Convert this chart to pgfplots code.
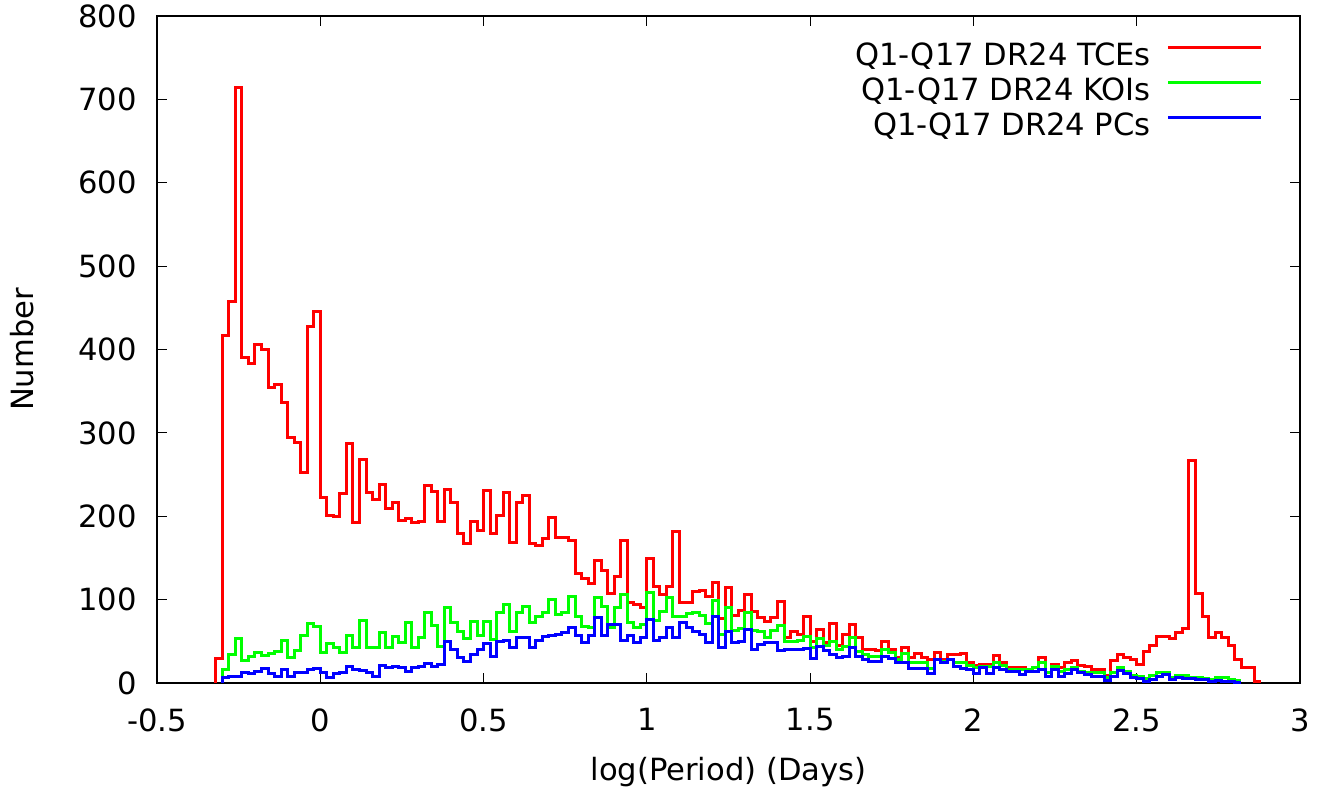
\documentclass[border=0pt]{standalone}
\usepackage{fontspec}
\setmainfont{DejaVu Sans}
\usepackage{pgfplots}
\usepackage{pgfplotstable}
\pgfplotsset{compat=1.18}

\pgfplotstableread{
x y
-0.32 0
-0.32 29
-0.30 417
-0.28 457
-0.26 714
-0.24 390
-0.22 383
-0.20 406
-0.18 400
-0.16 355
-0.14 358
-0.12 336
-0.10 294
-0.08 288
-0.06 252
-0.04 427
-0.02 445
0.00 223
0.02 201
0.04 200
0.06 227
0.08 287
0.10 193
0.12 268
0.14 228
0.16 220
0.18 238
0.20 209
0.22 217
0.24 195
0.26 197
0.28 192
0.30 194
0.32 237
0.34 230
0.36 194
0.38 232
0.40 217
0.42 179
0.44 167
0.46 194
0.48 183
0.50 231
0.52 179
0.54 201
0.56 229
0.58 169
0.60 216
0.62 225
0.64 167
0.66 165
0.68 173
0.70 199
0.72 174
0.74 174
0.76 171
0.78 131
0.80 125
0.82 119
0.84 147
0.86 135
0.88 107
0.90 128
0.92 171
0.94 96
0.96 94
0.98 91
1.00 149
1.02 116
1.04 106
1.06 116
1.08 182
1.10 97
1.12 97
1.14 110
1.16 111
1.18 104
1.20 121
1.22 77
1.24 114
1.26 81
1.28 87
1.30 106
1.32 86
1.34 78
1.36 74
1.38 78
1.40 98
1.42 55
1.44 62
1.46 58
1.48 80
1.50 50
1.52 64
1.54 48
1.56 71
1.58 45
1.60 58
1.62 70
1.64 55
1.66 40
1.68 40
1.70 39
1.72 50
1.74 40
1.76 30
1.78 43
1.80 31
1.82 35
1.84 31
1.86 28
1.88 36
1.90 28
1.92 34
1.94 34
1.96 35
1.98 24
2.00 21
2.02 22
2.04 22
2.06 33
2.08 24
2.10 18
2.12 18
2.14 18
2.16 16
2.18 18
2.20 30
2.22 12
2.24 22
2.26 18
2.28 24
2.30 27
2.32 21
2.34 20
2.36 16
2.38 16
2.40 9
2.42 27
2.44 34
2.46 30
2.48 28
2.50 22
2.52 38
2.54 45
2.56 56
2.58 56
2.60 53
2.62 61
2.64 65
2.66 267
2.68 107
2.70 80
2.72 55
2.74 61
2.76 55
2.78 45
2.80 28
2.82 19
2.84 19
2.86 2
2.88 2
}\tce

\pgfplotstableread{
x y
-0.30 0
-0.30 16
-0.28 34
-0.26 53
-0.24 27
-0.22 32
-0.20 36
-0.18 33
-0.16 35
-0.14 38
-0.12 51
-0.10 30
-0.08 39
-0.06 57
-0.04 71
-0.02 68
0.00 36
0.02 47
0.04 43
0.06 36
0.08 57
0.10 42
0.12 75
0.14 43
0.16 43
0.18 60
0.20 42
0.22 56
0.24 49
0.26 72
0.28 42
0.30 55
0.32 84
0.34 69
0.36 44
0.38 90
0.40 73
0.42 62
0.44 53
0.46 74
0.48 57
0.50 74
0.52 52
0.54 84
0.56 94
0.58 62
0.60 84
0.62 92
0.64 72
0.66 80
0.68 85
0.70 100
0.72 82
0.74 85
0.76 104
0.78 80
0.80 68
0.82 67
0.84 103
0.86 92
0.88 67
0.90 90
0.92 106
0.94 72
0.96 67
0.98 70
1.00 108
1.02 75
1.04 86
1.06 102
1.08 80
1.10 80
1.12 83
1.14 85
1.16 81
1.18 71
1.20 99
1.22 58
1.24 90
1.26 63
1.28 65
1.30 84
1.32 63
1.34 62
1.36 55
1.38 63
1.40 69
1.42 50
1.44 50
1.46 51
1.48 56
1.50 42
1.52 53
1.54 45
1.56 50
1.58 40
1.60 44
1.62 55
1.64 38
1.66 34
1.68 32
1.70 32
1.72 40
1.74 36
1.76 28
1.78 35
1.80 24
1.82 24
1.84 24
1.86 17
1.88 28
1.90 26
1.92 28
1.94 24
1.96 25
1.98 21
2.00 18
2.02 20
2.04 20
2.06 25
2.08 21
2.10 16
2.12 16
2.14 16
2.16 16
2.18 18
2.20 24
2.22 12
2.24 20
2.26 14
2.28 16
2.30 19
2.32 14
2.34 12
2.36 12
2.38 12
2.40 6
2.42 12
2.44 18
2.46 14
2.48 9
2.50 8
2.52 5
2.54 9
2.56 12
2.58 13
2.60 7
2.62 9
2.64 9
2.66 7
2.68 6
2.70 5
2.72 4
2.74 6
2.76 6
2.78 4
2.80 3
2.82 3
}\koi

\pgfplotstableread{
x y
-0.30 0
-0.30 6
-0.28 8
-0.26 8
-0.24 12
-0.22 11
-0.20 14
-0.18 17
-0.16 11
-0.14 8
-0.12 16
-0.10 8
-0.08 12
-0.06 13
-0.04 16
-0.02 17
0.00 12
0.02 7
0.04 11
0.06 13
0.08 20
0.10 16
0.12 15
0.14 13
0.16 8
0.18 21
0.20 19
0.22 20
0.24 18
0.26 14
0.28 19
0.30 20
0.32 23
0.34 20
0.36 22
0.38 50
0.40 40
0.42 31
0.44 26
0.46 34
0.48 40
0.50 47
0.52 32
0.54 50
0.56 51
0.58 42
0.60 54
0.62 55
0.64 42
0.66 51
0.68 56
0.70 57
0.72 58
0.74 61
0.76 66
0.78 57
0.80 49
0.82 57
0.84 79
0.86 57
0.88 70
0.90 70
0.92 51
0.94 57
0.96 48
0.98 55
1.00 76
1.02 51
1.04 55
1.06 67
1.08 54
1.10 72
1.12 66
1.14 62
1.16 58
1.18 48
1.20 80
1.22 43
1.24 62
1.26 48
1.28 50
1.30 64
1.32 40
1.34 46
1.36 48
1.38 48
1.40 39
1.42 40
1.44 40
1.46 40
1.48 41
1.50 29
1.52 44
1.54 39
1.56 34
1.58 31
1.60 32
1.62 43
1.64 32
1.66 28
1.68 26
1.70 26
1.72 32
1.74 29
1.76 24
1.78 25
1.80 17
1.82 17
1.84 17
1.86 11
1.88 28
1.90 24
1.92 28
1.94 20
1.96 17
1.98 16
2.00 11
2.02 18
2.04 11
2.06 18
2.08 16
2.10 14
2.12 14
2.14 10
2.16 14
2.18 14
2.20 16
2.22 8
2.24 16
2.26 8
2.28 11
2.30 16
2.32 13
2.34 10
2.36 8
2.38 8
2.40 3
2.42 8
2.44 15
2.46 11
2.48 6
2.50 5
2.52 2
2.54 4
2.56 8
2.58 10
2.60 4
2.62 6
2.64 5
2.66 5
2.68 4
2.70 4
2.72 2
2.74 3
2.76 2
2.78 2
2.80 1
2.82 1
}\pcs

\begin{document}
\fontsize{15.3pt}{18pt}\selectfont
\begin{tikzpicture}
\begin{axis}[
  scale only axis,
  width=571.5pt, height=333.5pt,
  xmin=-0.5, xmax=3, ymin=0, ymax=800,
  xtick={-0.5,0,0.5,1,1.5,2,2.5,3},
  xticklabels={-0.5,0,0.5,1,1.5,2,2.5,3},
  ytick={0,100,200,300,400,500,600,700,800},
  yticklabels={0,100,200,300,400,500,600,700,800},
  tick align=inside,
  major tick length=5pt,
  minor tick num=0,
  axis line style={line width=0.8pt},
  every tick/.style={line width=0.6pt, black},
  xticklabel style={anchor=north, inner sep=0pt, yshift=-12.5pt},
  yticklabel style={anchor=east, inner sep=0pt, xshift=-10pt},
  xlabel={log(Period) (Days)},
  ylabel={Number},
  every axis x label/.style={at={(axis description cs:0.5,-0.134)}, anchor=center},
  every axis y label/.style={at={(axis description cs:-0.118,0.5)}, rotate=90, anchor=center},
  legend plot pos=right,
  legend cell align=right,
  legend image code/.code={\draw[#1, line width=1.4pt] (0pt,0.35em) -- (46.5pt,0.35em);},
  legend style={draw=none, fill=none, inner sep=0pt,
    at={(rel axis cs:1,1)}, anchor=north east, xshift=-18.5pt, yshift=-13.3pt,
    nodes={inner sep=0pt, text height=11.5pt, text depth=3.5pt},
    column sep=8pt, row sep=2.5pt},
]
\addplot[const plot, color=red, line width=1.5pt, line join=miter] table {\tce};
\addplot[const plot, color=green, line width=1.5pt, line join=miter] table {\koi};
\addplot[const plot, color=blue, line width=1.5pt, line join=miter] table {\pcs};
\legend{Q1-Q17 DR24 TCEs, Q1-Q17 DR24 KOIs, Q1-Q17 DR24 PCs}
\end{axis}
\path (current axis.south west) ++(-78.5pt,-51.5pt) rectangle ++(662.5pt,393pt);
\end{tikzpicture}
\end{document}
